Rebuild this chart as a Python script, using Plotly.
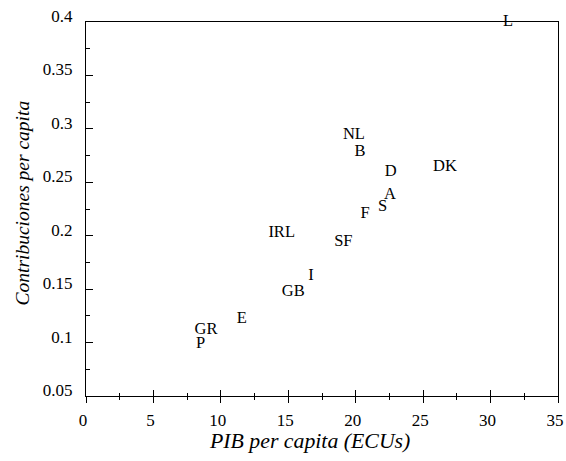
import plotly.graph_objects as go

countries = ["L", "NL", "B", "D", "DK", "A", "S", "F", "IRL", "SF", "I", "GB", "E", "GR", "P"]
pib = [31.3, 19.87, 20.32, 22.59, 26.62, 22.54, 22.0, 20.69, 14.51, 19.08, 16.68, 15.37, 11.55, 8.90, 8.50]
contrib = [0.4, 0.2943, 0.2781, 0.2599, 0.2646, 0.2381, 0.2266, 0.2200, 0.2028, 0.1944, 0.1623, 0.1471, 0.1218, 0.1118, 0.0987]

x_tickvals = [0, 5, 10, 15, 20, 25, 30, 35]
x_ticktext = ["0", "5", "10", "15", "20", "25", "30", "35"]
y_tickvals = [0.05, 0.1, 0.15, 0.2, 0.25, 0.3, 0.35, 0.4]
y_ticktext = ["0.05", "0.1", "0.15", "0.2", "0.25", "0.3", "0.35", "0.4"]
x_title = "PIB per capita (ECUs)"
y_title = "Contribuciones per capita"

FONT = "Liberation Serif, Times New Roman, Times, serif"

fig = go.Figure()
fig.add_trace(go.Scatter(
    x=pib, y=contrib, text=countries, mode="text",
    textposition="middle center",
    textfont=dict(family=FONT, size=16.5, color="black"),
    cliponaxis=False, showlegend=False, hoverinfo="skip",
))

common_x = dict(range=[0, 35], showgrid=False, zeroline=False, automargin=False)
fig.update_layout(
    width=566, height=461,
    margin=dict(l=86, r=8, t=22, b=65),
    paper_bgcolor="white", plot_bgcolor="white",
    showlegend=False,
    font=dict(family=FONT, color="black"),
    xaxis=dict(
        **common_x,
        tickvals=x_tickvals, ticktext=x_ticktext,
        ticks="outside", ticklen=6, tickwidth=1.3, tickcolor="black",
        minor=dict(ticks="outside", ticklen=3, tickwidth=1.3, tickcolor="black", dtick=2.5, tick0=0),
        showline=True, linecolor="black", linewidth=1.3, mirror=True,
        tickfont=dict(family=FONT, size=17, color="black"),
        ticklabelshift=-3, ticklabelstandoff=2,
    ),
    xaxis2=dict(
        **common_x, overlaying="x", anchor="y", side="bottom",
        tickvals=x_tickvals, showticklabels=False,
        ticks="inside", ticklen=6, tickwidth=1.3, tickcolor="black",
        minor=dict(ticks="inside", ticklen=3, tickwidth=1.3, tickcolor="black", dtick=2.5, tick0=0),
        showline=False,
    ),
    yaxis=dict(
        range=[0.05, 0.4], showgrid=False, zeroline=False, automargin=False,
        tickvals=y_tickvals, ticktext=y_ticktext,
        ticks="inside", ticklen=7, tickwidth=1.3, tickcolor="black",
        minor=dict(ticks="inside", ticklen=4, tickwidth=1.3, tickcolor="black", dtick=0.025, tick0=0.05),
        showline=True, linecolor="black", linewidth=1.3, mirror=True,
        tickfont=dict(family=FONT, size=17, color="black"),
        ticklabelshift=-6, ticklabelstandoff=9,
    ),
    annotations=[
        dict(text="<i>" + x_title + "</i>", xref="paper", yref="paper", x=0.4735, y=-0.1203,
             xanchor="center", yanchor="middle", showarrow=False,
             font=dict(family=FONT, size=21.8, color="black")),
        dict(text="<i>" + y_title + "</i>", xref="paper", yref="paper", x=-0.1345, y=0.516,
             xanchor="center", yanchor="middle", showarrow=False, textangle=-90,
             font=dict(family=FONT, size=19.5, color="black")),
    ],
)
fig.add_trace(go.Scatter(x=[], y=[], xaxis="x2", yaxis="y", showlegend=False))

fig.write_html("out.html", config={"displayModeBar": False},
               post_script="document.body.style.margin='0';document.body.style.overflow='hidden';")
